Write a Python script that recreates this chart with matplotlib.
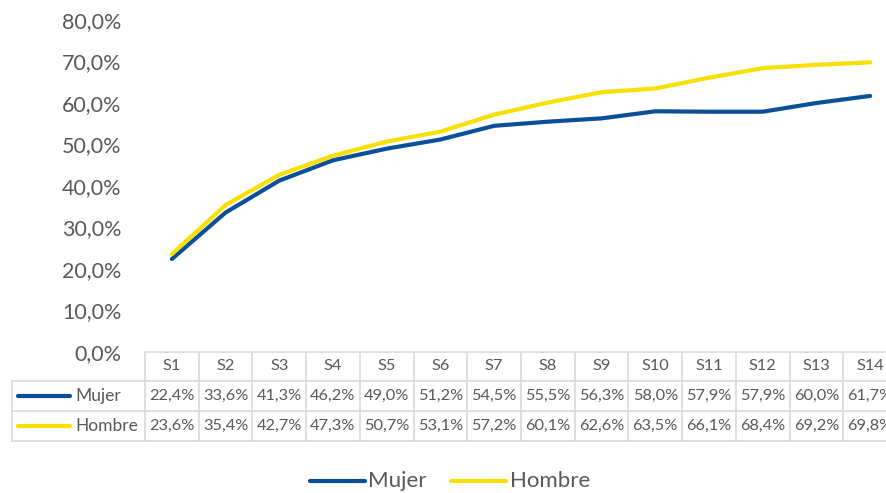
import matplotlib.pyplot as plt
from matplotlib.lines import Line2D
from matplotlib.ticker import FuncFormatter
from matplotlib.transforms import blended_transform_factory

categories = ["S1", "S2", "S3", "S4", "S5", "S6", "S7", "S8", "S9", "S10", "S11", "S12", "S13", "S14"]
mujer = [22.4, 33.6, 41.3, 46.2, 49.0, 51.2, 54.5, 55.5, 56.3, 58.0, 57.9, 57.9, 60.0, 61.7]
hombre = [23.6, 35.4, 42.7, 47.3, 50.7, 53.1, 57.2, 60.1, 62.6, 63.5, 66.1, 68.4, 69.2, 69.8]
y_ticks = [0, 10, 20, 30, 40, 50, 60, 70, 80]

series = [("Mujer", mujer, "#0B4F9B"), ("Hombre", hombre, "#F9E000")]

W, H = 886, 493
txt = "#595959"
grid = "#D9D9D9"
plt.rcParams["font.family"] = ["Lato", "DejaVu Sans"]


def fy(py):
    # pixel row (from top) -> figure fraction
    return 1 - py / H


fig = plt.figure(figsize=(W / 100, H / 100), dpi=100)
ax = fig.add_axes([145 / W, fy(352), (897 - 145) / W, (352 - 20) / H])

x = list(range(len(categories)))
for name, vals, col in series:
    ax.plot(x, vals, color=col, lw=3.0, solid_capstyle="round", solid_joinstyle="round")

ax.set_xlim(-0.5, len(categories) - 0.5)
ax.set_ylim(0, 80)
ax.set_yticks(y_ticks)
ax.yaxis.set_major_formatter(FuncFormatter(lambda v, p: f"{v:.1f}%".replace(".", ",")))
ax.tick_params(axis="y", length=0, labelsize=15.5, colors=txt, pad=17)
ax.set_xticks([])
for s in ax.spines.values():
    s.set_visible(False)

# data table below the plot
tr = blended_transform_factory(ax.transData, fig.transFigure)
rows_y = [352, 381, 411, 441]
n = len(categories)
for i in range(n + 1):
    ax.add_line(Line2D([i - 0.5, i - 0.5], [fy(352), fy(441)], transform=tr,
                       color=grid, lw=1.2, clip_on=False))
for py in rows_y:
    ax.add_line(Line2D([-0.5, n - 0.5], [fy(py), fy(py)], transform=tr,
                       color=grid, lw=1.2, clip_on=False))
for py in rows_y[1:]:
    fig.add_artist(Line2D([12 / W, 145 / W], [fy(py), fy(py)], color=grid, lw=1.2))
fig.add_artist(Line2D([12 / W, 12 / W], [fy(381), fy(441)], color=grid, lw=1.2))

for i, c in enumerate(categories):
    ax.text(i, fy(366), c, transform=tr, ha="center", va="center",
            fontsize=11.8, color=txt, clip_on=False)

for r, (name, vals, col) in enumerate(series):
    yc = fy((rows_y[r + 1] + rows_y[r + 2]) / 2)
    fig.add_artist(Line2D([18 / W, 70 / W], [yc, yc], color=col, lw=3.0,
                          solid_capstyle="round"))
    fig.text(75 / W, yc, name, ha="left", va="center", fontsize=12.5, color=txt)
    for i, v in enumerate(vals):
        ax.text(i, yc, f"{v:.1f}%".replace(".", ","), transform=tr, ha="center",
                va="center", fontsize=11.8, color=txt, clip_on=False)

# legend at the bottom
ly = fy(481)
for (name, vals, col), (x0, x1, tx) in zip(series, [(310, 365, 368), (451, 506, 510)]):
    fig.add_artist(Line2D([x0 / W, x1 / W], [ly, ly], color=col, lw=3.0,
                          solid_capstyle="round"))
    fig.text(tx / W, ly, name, ha="left", va="center", fontsize=16, color=txt)

fig.savefig("out.png", dpi=100)
